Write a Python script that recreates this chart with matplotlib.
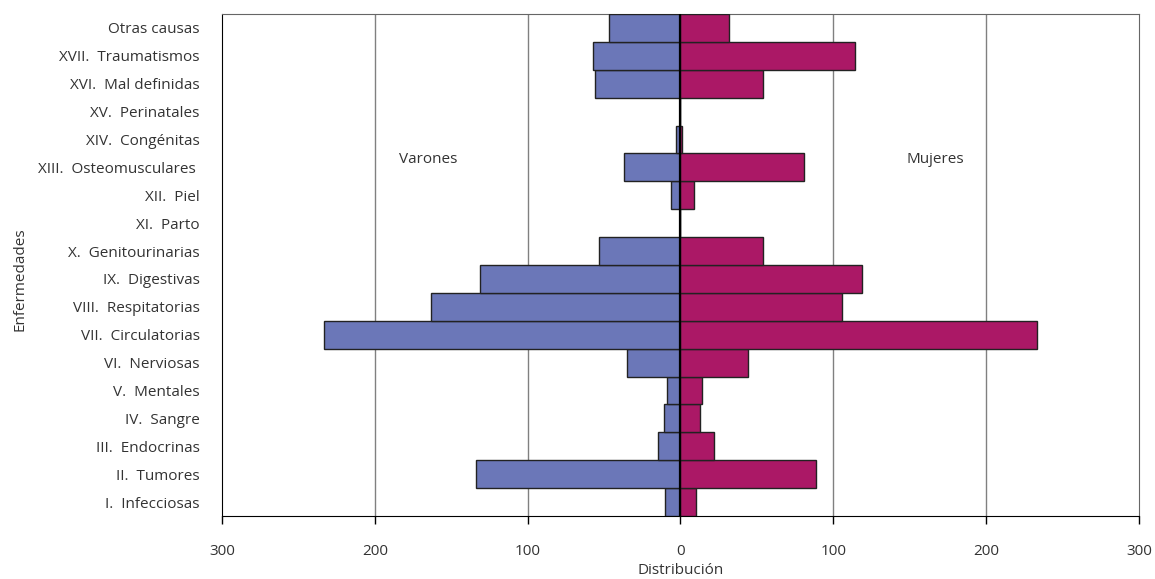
import matplotlib.pyplot as plt
import numpy as np

plt.rcParams['font.family'] = ['Open Sans', 'DejaVu Sans']

# categorias de abajo hacia arriba
enfermedades = ['I.  Infecciosas', 'II.  Tumores', 'III.  Endocrinas', 'IV.  Sangre',
                'V.  Mentales', 'VI.  Nerviosas', 'VII.  Circulatorias',
                'VIII.  Respitatorias', 'IX.  Digestivas', 'X.  Genitourinarias',
                'XI.  Parto', 'XII.  Piel', 'XIII.  Osteomusculares ',
                'XIV.  Congénitas', 'XV.  Perinatales', 'XVI.  Mal definidas',
                'XVII.  Traumatismos', 'Otras causas']
varones = [10, 134, 15, 11, 9, 35, 233, 163, 131, 53,
           0, 6, 37, 3, 0, 56, 57, 47]
mujeres = [10, 89, 22, 13, 14, 44, 233, 106, 119, 54,
           0, 9, 81, 1, 0, 54, 114, 32]
xticks = [-300, -200, -100, 0, 100, 200, 300]
xticklabels = ['300', '200', '100', '0', '100', '200', '300']

azul = '#6b77b8'
magenta = '#ab1866'
fs = 11

fig = plt.figure(figsize=(11.55, 5.79), dpi=100)
ax = fig.add_axes([0.1922, 0.1088, 0.7939, 0.867])

y = np.arange(len(enfermedades))
ax.barh(y, -np.array(varones), height=1.0, color=azul, edgecolor='#222222', linewidth=1, zorder=3)
ax.barh(y, mujeres, height=1.0, color=magenta, edgecolor='#222222', linewidth=1, zorder=3)

for g in [-200, -100, 100, 200]:
    ax.axvline(g, color='#808080', linewidth=1, zorder=1)
ax.axvline(0, color='black', linewidth=1.6, zorder=4)

ax.set_xlim(-300, 300)
ax.set_ylim(-0.5, len(enfermedades) - 0.5)
ax.set_yticks(y)
ax.set_yticklabels(enfermedades, fontsize=fs, color='#333333')
ax.tick_params(axis='y', length=0, pad=16)
ax.set_xticks(xticks)
ax.set_xticklabels(xticklabels, fontsize=fs, color='#333333')
ax.tick_params(axis='x', direction='out', length=6, width=1, pad=14)

for s in ['top', 'right']:
    ax.spines[s].set_color('#666666')
ax.spines['left'].set_color('black')
ax.spines['bottom'].set_color('black')

ax.text(-165, 12.3, 'Varones', ha='center', va='center', fontsize=fs, color='#333333')
ax.text(167, 12.3, 'Mujeres', ha='center', va='center', fontsize=fs, color='#333333')

ax.set_xlabel('Distribución', fontsize=fs, color='#333333')
ax.xaxis.set_label_coords(0.5, -0.094)
ax.set_ylabel('Enfermedades', fontsize=fs, color='#333333')
ax.yaxis.set_label_coords(-0.212, 0.472)

fig.savefig('out.png', dpi=100)
